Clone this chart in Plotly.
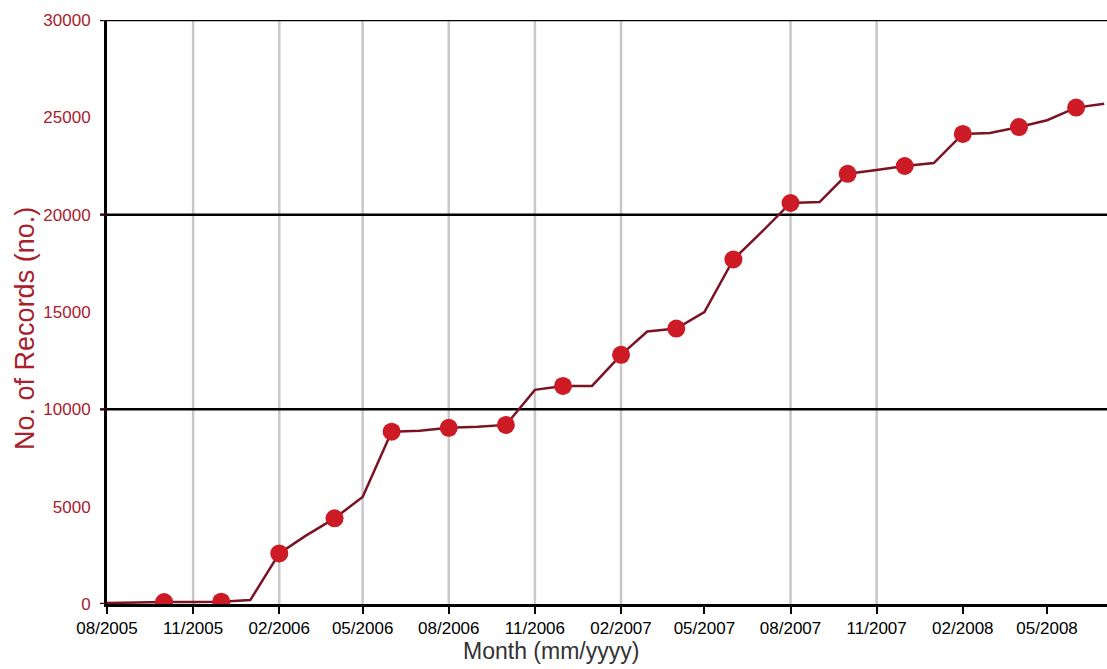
import plotly.graph_objects as go

# Monthly cumulative record counts (08/2005 .. 07/2008)
months = [
    "2005-08-01", "2005-09-01", "2005-10-01", "2005-11-01", "2005-12-01", "2006-01-01",
    "2006-02-01", "2006-03-01", "2006-04-01", "2006-05-01", "2006-06-01", "2006-07-01",
    "2006-08-01", "2006-09-01", "2006-10-01", "2006-11-01", "2006-12-01", "2007-01-01",
    "2007-02-01", "2007-03-01", "2007-04-01", "2007-05-01", "2007-06-01", "2007-07-01",
    "2007-08-01", "2007-09-01", "2007-10-01", "2007-11-01", "2007-12-01", "2008-01-01",
    "2008-02-01", "2008-03-01", "2008-04-01", "2008-05-01", "2008-06-01", "2008-07-01",
]
records = [
    50, 80, 100, 100, 120, 200,
    2600, 3500, 4400, 5500, 8850, 8900,
    9050, 9100, 9200, 11000, 11200, 11200,
    12800, 14000, 14150, 15000, 17700, 19100,
    20600, 20650, 22100, 22300, 22500, 22650,
    24150, 24200, 24500, 24850, 25500, 25700,
]
# markers appear every second month starting 10/2005
marker_months = months[2::2]
marker_records = records[2::2]

tick_months = ["2005-08-01", "2005-11-01", "2006-02-01", "2006-05-01", "2006-08-01",
               "2006-11-01", "2007-02-01", "2007-05-01", "2007-08-01", "2007-11-01",
               "2008-02-01", "2008-05-01"]
tick_labels = ["08/2005", "11/2005", "02/2006", "05/2006", "08/2006", "11/2006",
               "02/2007", "05/2007", "08/2007", "11/2007", "02/2008", "05/2008"]
grid_months = ["2005-11-01", "2006-02-01", "2006-05-01", "2006-08-01", "2006-11-01",
               "2007-02-01", "2007-08-01", "2007-11-01"]
y_ticks = [0, 5000, 10000, 15000, 20000, 25000, 30000]
y_major_lines = [10000, 20000, 30000]
y_stub_ticks = [0, 10000, 20000, 30000]

RED_TEXT = "#a8202c"
LINE_COL = "#7a1424"
MARK_COL = "#cc1b24"
FONT = "Liberation Sans, Arial, sans-serif"

fig = go.Figure()
fig.add_trace(go.Scatter(
    x=months, y=records, mode="lines",
    line=dict(color=LINE_COL, width=2.5),
    hoverinfo="skip", showlegend=False,
))
fig.add_trace(go.Scatter(
    x=marker_months, y=marker_records, mode="markers",
    marker=dict(color=MARK_COL, size=18, line=dict(width=0)),
    showlegend=False,
))

shapes = []
for m in grid_months:
    shapes.append(dict(type="line", xref="x", yref="paper", x0=m, x1=m, y0=0, y1=1,
                       line=dict(color="#c8c8c8", width=2.5), layer="below"))
for v in y_major_lines:
    shapes.append(dict(type="line", xref="paper", yref="y", x0=0, x1=1, y0=v, y1=v,
                       line=dict(color="black", width=2.5), layer="below"))
for v in y_stub_ticks:
    shapes.append(dict(type="line", xref="paper", yref="y", x0=-0.007, x1=0, y0=v, y1=v,
                       line=dict(color="#3a0a10", width=2.5), layer="above"))

fig.update_layout(
    width=1107, height=669,
    margin=dict(l=107, r=0, t=20, b=65),
    paper_bgcolor="white", plot_bgcolor="white",
    shapes=shapes,
    font=dict(family=FONT),
    xaxis=dict(
        type="date",
        range=["2005-08-01", "2008-07-04"],
        tickvals=tick_months, ticktext=tick_labels,
        tickfont=dict(size=17, color="black", family=FONT),
        ticks="outside", ticklen=7, tickwidth=2, tickcolor="black",
        showgrid=False, zeroline=False,
        showline=True, linecolor="black", linewidth=3,
    ),
    yaxis=dict(
        range=[0, 30000],
        tickvals=y_ticks, ticktext=[str(v) for v in y_ticks],
        tickfont=dict(size=17, color=RED_TEXT, family=FONT),
        ticks="outside", ticklen=10, tickcolor="rgba(0,0,0,0)",
        showgrid=False, zeroline=False,
        showline=True, linecolor="black", linewidth=3,
    ),
    annotations=[
        dict(text="Month (mm/yyyy)", xref="paper", yref="paper", x=0.444, y=0,
             yshift=-47, xanchor="center", yanchor="middle", showarrow=False,
             font=dict(size=23, color="#333333", family=FONT)),
        dict(text="No. of Records (no.)", xref="paper", yref="paper", x=0, y=0.471,
             xshift=-82, xanchor="center", yanchor="middle", textangle=-90, showarrow=False,
             font=dict(size=27, color=RED_TEXT, family=FONT)),
    ],
)

fig.write_html("out.html", config={"displayModeBar": False},
               post_script="document.body.style.margin='0';document.body.style.overflow='hidden';")
